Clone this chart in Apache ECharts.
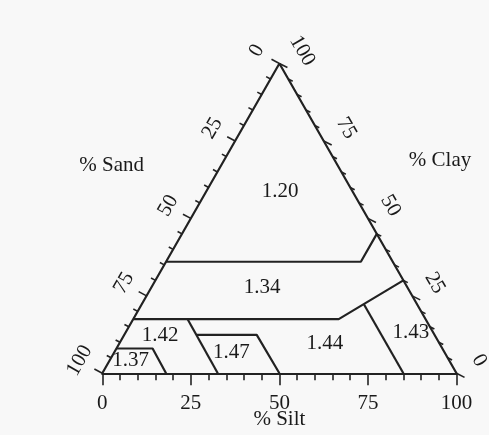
<!DOCTYPE html>
<html>
<head>
<meta charset="utf-8">
<script src="https://cdn.jsdelivr.net/npm/echarts@6/dist/echarts.min.js"></script>
<style>
  html, body { margin: 0; padding: 0; background: #f8f8f8; }
  #main { width: 489px; height: 435px; }
</style>
</head>
<body>
<div id="main"></div>
<script>
// scale values along each side of the triangle
var tickSteps = [0, 5, 10, 15, 20, 25, 30, 35, 40, 45, 50, 55, 60, 65, 70, 75, 80, 85, 90, 95, 100];
var majorSteps = [0, 25, 50, 75, 100];

// bulk density labels and where they sit (clay %, silt %)
var densityLabels = ['1.20', '1.34', '1.42', '1.37', '1.47', '1.44', '1.43'];
var labelClay = [58.6, 27.6, 12.2, 4.0, 6.7, 9.5, 13.2];
var labelSilt = [20.9, 31.3, 10.2, 6.0, 33.1, 58.1, 80.5];

// class boundaries, each a list of [clay %, silt %] corners
var boundaryA = [[36, 0], [36, 55], [45, 55]];
var boundaryB = [[17.5, 0], [17.5, 58], [30, 70]];
var boundaryC = [[22.3, 62.7], [0, 85]];
var boundaryD = [[17.5, 15.3], [0, 32.6]];
var boundaryE = [[12.4, 20.5], [12.4, 37.4], [0, 50]];
var boundaryF = [[8, 0], [8, 10.2], [0, 18]];

var ink = '#222';
var font = '21px "Liberation Serif", "Times New Roman", serif';

// ternary (clay, silt) -> cartesian data coords: x = silt + clay/2, y = clay
function toXY(clay, silt) {
    return [silt + clay / 2, clay];
}

var sandPts = tickSteps.map(function (v) {
    var p = toXY(100 - v, 0);
    return [p[0], p[1], majorSteps.indexOf(v) >= 0 ? 1 : 0];
});
var clayPts = tickSteps.map(function (v) {
    var p = toXY(v, 100 - v);
    return [p[0], p[1], majorSteps.indexOf(v) >= 0 ? 1 : 0];
});
var sandLabelPts = majorSteps.map(function (v) { return toXY(100 - v, 0); });
var clayLabelPts = majorSteps.map(function (v) { return toXY(v, 100 - v); });

function tickSeries(data, dx, dy) {
    return {
        type: 'custom',
        silent: true,
        data: data,
        renderItem: function (params, api) {
            var p = api.coord([api.value(0), api.value(1)]);
            var len = api.value(2) ? 9 : 5;
            return {
                type: 'line',
                shape: { x1: p[0], y1: p[1], x2: p[0] + dx * len, y2: p[1] + dy * len },
                style: { stroke: ink, lineWidth: 1.6 }
            };
        }
    };
}

function sideLabelSeries(data, texts, nx, ny, rot) {
    return {
        type: 'custom',
        silent: true,
        data: data,
        renderItem: function (params, api) {
            var p = api.coord([api.value(0), api.value(1)]);
            return {
                type: 'text',
                x: p[0] + nx * 26,
                y: p[1] + ny * 26,
                rotation: rot,
                style: {
                    text: texts[params.dataIndex],
                    font: font,
                    fill: '#1a1a1a',
                    align: 'center',
                    verticalAlign: 'middle'
                }
            };
        }
    };
}

function boundarySeries(pts) {
    return {
        type: 'line',
        silent: true,
        symbol: 'none',
        data: pts.map(function (p) { return toXY(p[0], p[1]); }),
        lineStyle: { color: ink, width: 2.2 }
    };
}

var majorText = majorSteps.map(String);

var densityPts = densityLabels.map(function (t, i) {
    return toXY(labelClay[i], labelSilt[i]);
});

var myChart = echarts.init(document.getElementById('main'));
myChart.setOption({
    animation: false,
    backgroundColor: '#f8f8f8',
    grid: { left: 102.3, right: 32.5, top: 63.5, bottom: 61.7, containLabel: false, outerBoundsMode: 'none' },
    xAxis: {
        type: 'value',
        min: 0,
        max: 100,
        interval: 25,
        name: '% Silt',
        nameLocation: 'middle',
        nameGap: 36,
        nameMoveOverlap: false,
        nameTextStyle: { fontFamily: 'Liberation Serif', fontSize: 21, color: '#1a1a1a' },
        axisLine: { lineStyle: { color: ink, width: 2.2 } },
        axisTick: { length: 12, lineStyle: { color: ink, width: 1.6 } },
        minorTick: { show: true, splitNumber: 5, length: 7, lineStyle: { color: ink, width: 1.6 } },
        splitLine: { show: false },
        axisLabel: { fontFamily: 'Liberation Serif', fontSize: 21, color: '#1a1a1a', margin: 20 }
    },
    yAxis: { type: 'value', min: 0, max: 100, show: false },
    graphic: [
        { type: 'text', x: 111.7, y: 165, style: { text: '% Sand', font: font, fill: '#1a1a1a', align: 'center', verticalAlign: 'middle' } },
        { type: 'text', x: 440, y: 160, style: { text: '% Clay', font: font, fill: '#1a1a1a', align: 'center', verticalAlign: 'middle' } }
    ],
    series: [
        {
            type: 'line',
            silent: true,
            symbol: 'none',
            data: [toXY(0, 0), toXY(100, 0), toXY(0, 100)],
            lineStyle: { color: ink, width: 2.2 }
        },
        boundarySeries(boundaryA),
        boundarySeries(boundaryB),
        boundarySeries(boundaryC),
        boundarySeries(boundaryD),
        boundarySeries(boundaryE),
        boundarySeries(boundaryF),
        tickSeries(sandPts, -0.88, -0.47),
        tickSeries(clayPts, 0.89, 0.45),
        sideLabelSeries(sandLabelPts, majorText, -0.871, -0.49, Math.PI / 3),
        sideLabelSeries(clayLabelPts, majorText, 0.871, -0.49, -Math.PI / 3),
        {
            type: 'custom',
            silent: true,
            data: densityPts,
            renderItem: function (params, api) {
                var p = api.coord([api.value(0), api.value(1)]);
                return {
                    type: 'text',
                    x: p[0],
                    y: p[1],
                    style: {
                        text: densityLabels[params.dataIndex],
                        font: font,
                        fill: '#1a1a1a',
                        align: 'center',
                        verticalAlign: 'middle'
                    }
                };
            }
        }
    ]
});
</script>
</body>
</html>
